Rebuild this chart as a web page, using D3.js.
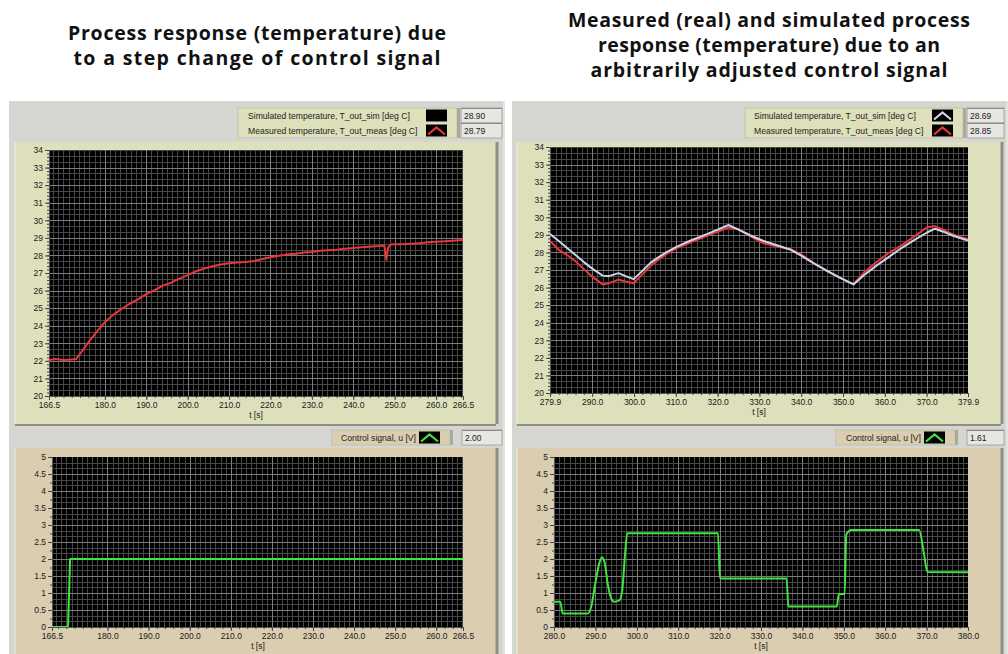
<!DOCTYPE html>
<html><head><meta charset="utf-8">
<script src="https://cdn.jsdelivr.net/npm/d3@7"></script>
<style>
html,body{margin:0;padding:0;background:#fff;}
svg{display:block;}
.tick text{font-family:"Liberation Sans",Arial,sans-serif;font-size:8px;fill:#1a1a1a;}
</style></head>
<body>
<svg id="chart" width="1008" height="654"></svg>
<script>
// ---------------- DATA ----------------
const leftTitle = ["Process response (temperature) due", "to a step change of control signal"];
const rightTitle = ["Measured (real) and simulated process", "response (temperature) due to an", "arbitrarily adjusted control signal"];
const tempLegend = ["Simulated temperature, T_out_sim [deg C]", "Measured temperature, T_out_meas [deg C]"];
const ctrlLegend = ["Control signal, u [V]"];
const leftTempValues = ["28.90", "28.79"];
const rightTempValues = ["28.69", "28.85"];
const leftCtrlValue = ["2.00"];
const rightCtrlValue = ["1.61"];
const axisLabel = "t [s]";

const tempTicks = [20,21,22,23,24,25,26,27,28,29,30,31,32,33,34];
const ctrlTicks = [0,0.5,1,1.5,2,2.5,3,3.5,4,4.5,5];
const leftXTicks = [166.5,180,190,200,210,220,230,240,250,260,266.5];
const rightTempXTicks = [279.9,290,300,310,320,330,340,350,360,370,379.9];
const rightCtrlXTicks = [280,290,300,310,320,330,340,350,360,370,380];

// left: step response (measured temperature)
const leftTime = [166.5,168,170,172,173,174,176,178,180,182,184,186,188,190,192,194,196,198,200,202,204,206,208,210,212,214,216,218,220,222,224,226,228,230,232,234,236,238,240,242,244,246,247.5,248,248.4,249,250,252,254,256,258,260,262,264,266.5];
const leftMeasured = [22.05,22.10,22.05,22.08,22.10,22.40,23.05,23.65,24.20,24.62,24.95,25.25,25.50,25.80,26.02,26.28,26.45,26.68,26.88,27.10,27.25,27.38,27.48,27.55,27.60,27.63,27.68,27.80,27.90,27.98,28.05,28.10,28.16,28.20,28.26,28.30,28.33,28.38,28.42,28.46,28.50,28.53,28.57,27.75,28.45,28.62,28.63,28.64,28.66,28.70,28.75,28.78,28.80,28.84,28.88];
const leftCtrlTime = [166.5,170.4,170.9,266.5];
const leftCtrl = [0,0,2,2];

// right: arbitrary control signal
const rightTime = [279.9,282,284,286,288,290,292.5,294,296.3,298,299.9,302,304,306,308,310,312,314,316,318,320,322.6,325,328,331,334,337.5,340,343,346,349,352.5,355,358,361,364,367,370,372,374,376,378,379.9];
const rightSimulated = [29.05,28.65,28.25,27.85,27.45,27.08,26.68,26.65,26.82,26.65,26.48,26.95,27.42,27.75,28.05,28.30,28.52,28.72,28.90,29.10,29.30,29.56,29.30,28.95,28.65,28.42,28.15,27.82,27.38,26.98,26.60,26.18,26.70,27.25,27.75,28.25,28.70,29.12,29.35,29.18,28.98,28.82,28.68];
const rightMeasured = [28.65,28.15,27.85,27.50,27.05,26.62,26.18,26.25,26.45,26.35,26.25,26.75,27.25,27.62,27.95,28.22,28.42,28.62,28.80,29.00,29.18,29.42,29.32,28.90,28.52,28.35,28.18,27.88,27.40,26.95,26.58,26.20,26.85,27.45,27.98,28.40,28.90,29.42,29.50,29.30,29.05,28.88,28.78];
const rightCtrlTime = [280,281.5,282.1,288.2,289,290,291,291.6,292.3,293,293.8,294.5,295.8,296.5,297.2,297.7,319.6,320.1,336.2,336.6,348.3,348.8,350.2,350.6,351.8,368.2,369.3,370.2,380];
const rightCtrl = [0.74,0.74,0.40,0.40,0.60,1.30,1.90,2.05,1.85,1.25,0.85,0.74,0.78,1.10,2.20,2.76,2.76,1.43,1.43,0.60,0.60,0.97,0.97,2.72,2.85,2.85,2.20,1.62,1.61];

// ---------------- DRAWING ----------------
const svg = d3.select("#chart");
const C = {
  panel: "#d5d5d1", olive: "#dde0ba", tan: "#dacdb0", shadow: "#8e8e86",
  red: "#e8363c", sim: "#c9d6ee", green: "#3fe43f", black: "#000"
};

function titleBlock(lines, widths, cx, y0, dy) {
  svg.append("g").selectAll("text").data(lines).join("text")
    .attr("x", cx).attr("y", (d,i) => y0 + i*dy)
    .attr("text-anchor", "middle")
    .attr("textLength", (d,i) => widths[i]).attr("lengthAdjust", "spacing")
    .style("font-family", "'Open Sans', sans-serif").style("font-weight", 700)
    .style("font-size", "19.5px").attr("fill", "#111").text(d => d);
}
titleBlock(leftTitle, [378, 367], 257, 40, 24.5);
titleBlock(rightTitle, [402, 342, 357], 769, 27, 25);

function panelBg(x, w) {
  svg.append("rect").attr("x", x).attr("y", 101).attr("width", w).attr("height", 553).attr("fill", C.panel);
  svg.append("line").attr("x1", x+w-1).attr("x2", x+w-1).attr("y1", 101).attr("y2", 654).attr("stroke", "#f2f2f0");
}
panelBg(9, 496);
panelBg(512, 496);

function frame(x, y, w, h, fill) {
  svg.append("rect").attr("x", x).attr("y", y).attr("width", w).attr("height", h).attr("fill", fill);
  svg.append("line").attr("x1", x+w+1).attr("x2", x+w+1).attr("y1", y).attr("y2", y+h).attr("stroke", C.shadow).attr("stroke-width", 3);
  svg.append("line").attr("x1", x).attr("x2", x+w).attr("y1", y+h+1).attr("y2", y+h+1).attr("stroke", C.shadow).attr("stroke-width", 2);
  svg.append("line").attr("x1", x).attr("x2", x).attr("y1", y).attr("y2", y+h).attr("stroke", "#eef0de").attr("stroke-width", 1);
}
frame(15, 142, 481, 282, C.olive);
frame(15, 448, 481, 210, C.tan);
frame(517, 142, 484, 282, C.olive);
frame(517, 448, 484, 210, C.tan);

function swatch(x, y, color) {
  const g = svg.append("g");
  g.append("rect").attr("x", x).attr("y", y).attr("width", 21).attr("height", 12).attr("fill", "#000");
  if (color) {
    g.append("polyline").attr("points", `${x+2},${y+10} ${x+10.5},${y+3} ${x+19},${y+10}`)
      .attr("fill", "none").attr("stroke", color).attr("stroke-width", 2.2);
  }
}
function valueBox(x, y, w, h, txt) {
  svg.append("rect").attr("x", x).attr("y", y).attr("width", w).attr("height", h)
    .attr("fill", "#e6e6e3").attr("stroke", "#a8a8a2").attr("stroke-width", 1);
  svg.append("line").attr("x1", x).attr("x2", x+w).attr("y1", y+0.5).attr("y2", y+0.5).attr("stroke", "#8a8a86");
  svg.append("text").attr("x", x+3).attr("y", y+h/2+3).text(txt)
    .style("font-family", "'Liberation Sans', Arial, sans-serif").style("font-size", "8.5px").attr("fill", "#222");
}
function legendBox(x, y, w, h, fill, labels, colors, textX, values, vx, vw) {
  svg.append("rect").attr("x", x).attr("y", y).attr("width", w).attr("height", h).attr("fill", fill)
    .attr("stroke", "#bdbda8").attr("stroke-width", 0.8);
  svg.append("rect").attr("x", x+w).attr("y", y).attr("width", 3).attr("height", h).attr("fill", "#a9a99f");
  const rowH = h / labels.length;
  labels.forEach((lab, i) => {
    svg.append("text").attr("x", textX).attr("y", y + rowH*i + rowH/2 + 3).text(lab)
      .style("font-family", "'Liberation Sans', Arial, sans-serif").style("font-size", "8.6px").attr("fill", "#222");
    swatch(x + w - 31, y + rowH*i + (rowH-12)/2, colors[i]);
    valueBox(vx, y + rowH*i, vw, rowH, values[i]);
  });
}
legendBox(238, 108, 219, 30, C.olive, tempLegend, [null, C.red], 248, leftTempValues, 461, 41);
legendBox(745, 108, 218, 30, C.olive, tempLegend, [C.sim, C.red], 754, rightTempValues, 967, 37);
legendBox(332, 430, 118, 15, C.tan, ctrlLegend, [C.green], 341, leftCtrlValue, 462, 40);
legendBox(836, 430, 119, 15, C.tan, ctrlLegend, [C.green], 846, rightCtrlValue, 967, 37);

function plot(o) {
  const x = d3.scaleLinear().domain(o.xDomain).range([o.x0, o.x1]);
  const y = d3.scaleLinear().domain(o.yDomain).range([o.y1, o.y0]);
  const g = svg.append("g");
  g.append("rect").attr("x", o.x0).attr("y", o.y0).attr("width", o.x1-o.x0).attr("height", o.y1-o.y0).attr("fill", "#000");
  const grid = g.append("g");
  const minX = d3.range(Math.ceil(o.xDomain[0]/o.gxStep)*o.gxStep, o.xDomain[1], o.gxStep);
  const minY = d3.range(o.yDomain[0]+o.gyStep, o.yDomain[1], o.gyStep);
  grid.selectAll(".vx").data(minX).join("line")
    .attr("x1", d => Math.round(x(d))+0.5).attr("x2", d => Math.round(x(d))+0.5)
    .attr("y1", o.y0).attr("y2", o.y1).attr("stroke", "#474747").attr("stroke-width", 1);
  grid.selectAll(".hy").data(minY).join("line")
    .attr("y1", d => Math.round(y(d))+0.5).attr("y2", d => Math.round(y(d))+0.5)
    .attr("x1", o.x0).attr("x2", o.x1).attr("stroke", "#474747").attr("stroke-width", 1);
  grid.selectAll(".mx").data(o.xTicks.slice(1, -1)).join("line")
    .attr("x1", d => Math.round(x(d))+0.5).attr("x2", d => Math.round(x(d))+0.5)
    .attr("y1", o.y0).attr("y2", o.y1).attr("stroke", "#7c7c7c").attr("stroke-width", 1);
  grid.selectAll(".my").data(o.yTicks.slice(1, -1)).join("line")
    .attr("y1", d => Math.round(y(d))+0.5).attr("y2", d => Math.round(y(d))+0.5)
    .attr("x1", o.x0).attr("x2", o.x1).attr("stroke", "#7c7c7c").attr("stroke-width", 1);

  // axes
  const ax = g.append("g").attr("transform", `translate(0,${o.y1})`)
    .call(d3.axisBottom(x).tickValues(o.xTicks).tickFormat(d3.format(".1f")).tickSize(4).tickSizeOuter(0).tickPadding(2));
  const axm = g.append("g").attr("transform", `translate(0,${o.y1})`)
    .call(d3.axisBottom(x).tickValues(d3.range(Math.ceil(o.xDomain[0]/2)*2, o.xDomain[1], 2)).tickFormat("").tickSize(2).tickSizeOuter(0));
  const ay = g.append("g").attr("transform", `translate(${o.x0},0)`)
    .call(d3.axisLeft(y).tickValues(o.yTicks).tickFormat(o.yFmt).tickSize(4).tickSizeOuter(0).tickPadding(2));
  const aym = g.append("g").attr("transform", `translate(${o.x0},0)`)
    .call(d3.axisLeft(y).tickValues(d3.range(o.yDomain[0], o.yDomain[1], o.yMinor)).tickFormat("").tickSize(2).tickSizeOuter(0));
  [ax, axm, ay, aym].forEach(a => {
    a.selectAll("path").attr("stroke", "#555");
    a.selectAll("line").attr("stroke", "#444");
  });
  ax.selectAll("text").style("font-size", "8.5px");
  ay.selectAll("text").style("font-size", "8.5px");

  g.append("text").attr("x", o.tx).attr("y", o.y1 + 22).attr("text-anchor", "middle").text(axisLabel)
    .style("font-family", "'Liberation Sans', Arial, sans-serif").style("font-size", "8.5px").attr("fill", "#1a1a1a");

  const clipId = "clip" + Math.round(o.x0) + "_" + Math.round(o.y0);
  g.append("clipPath").attr("id", clipId).append("rect")
    .attr("x", o.x0).attr("y", o.y0).attr("width", o.x1-o.x0).attr("height", o.y1-o.y0);
  const lines = g.append("g").attr("clip-path", `url(#${clipId})`);
  o.series.forEach(s => {
    const pts = s.t.map((t, i) => [t, s.v[i]]);
    lines.append("path").datum(pts)
      .attr("d", d3.line().x(d => x(d[0])).y(d => y(d[1])).curve(s.curve || d3.curveLinear))
      .attr("fill", "none").attr("stroke", s.color).attr("stroke-width", 2).attr("stroke-linejoin", "round");
  });
}

const fmtInt = d3.format("d");
const fmtCtrl = d => (d % 1 === 0 ? d3.format("d")(d) : d3.format(".1f")(d));

plot({x0: 49, x1: 463, y0: 150, y1: 396, xDomain: [166.5, 266.5], yDomain: [20, 34],
  xTicks: leftXTicks, yTicks: tempTicks, yFmt: fmtInt, gxStep: 1.25, gyStep: 1/3, yMinor: 0.2, tx: 256,
  series: [{t: leftTime, v: leftMeasured, color: C.red}]});
plot({x0: 52, x1: 463, y0: 457, y1: 627, xDomain: [166.5, 266.5], yDomain: [0, 5],
  xTicks: leftXTicks, yTicks: ctrlTicks, yFmt: fmtCtrl, gxStep: 1.25, gyStep: 1/6, yMinor: 0.25, tx: 258,
  series: [{t: leftCtrlTime, v: leftCtrl, color: C.green}]});
plot({x0: 550, x1: 968, y0: 147, y1: 393, xDomain: [279.9, 379.9], yDomain: [20, 34],
  xTicks: rightTempXTicks, yTicks: tempTicks, yFmt: fmtInt, gxStep: 1.25, gyStep: 1/3, yMinor: 0.2, tx: 759,
  series: [{t: rightTime, v: rightMeasured, color: C.red}, {t: rightTime, v: rightSimulated, color: C.sim}]});
plot({x0: 554, x1: 968, y0: 457, y1: 627, xDomain: [280, 380], yDomain: [0, 5],
  xTicks: rightCtrlXTicks, yTicks: ctrlTicks, yFmt: fmtCtrl, gxStep: 1.25, gyStep: 1/6, yMinor: 0.25, tx: 761,
  series: [{t: rightCtrlTime, v: rightCtrl, color: C.green, curve: d3.curveMonotoneX}]});
</script>
</body></html>
